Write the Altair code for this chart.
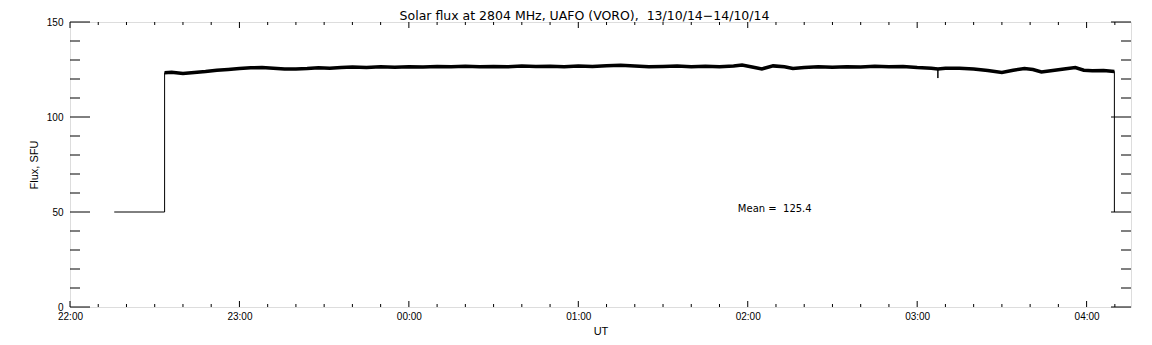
import json
import altair as alt
import pandas as pd

# ---------------- data ----------------
TITLE = "Solar flux at 2804 MHz, UAFO (VORO),\u00a0 13/10/14\u221214/10/14"
hour_labels = ["22:00", "23:00", "00:00", "01:00", "02:00", "03:00", "04:00"]
hour_ticks = [0, 1, 2, 3, 4, 5, 6]
minor_x_minutes = [10, 20, 30, 40, 50, 70, 80, 90, 100, 110, 130, 140, 150, 160, 170,
                   190, 200, 210, 220, 230, 250, 260, 270, 280, 290, 310, 320, 330,
                   340, 350, 370]
y_major = [0, 50, 100, 150]
y_minor = [10, 20, 30, 40, 60, 70, 80, 90, 110, 120, 130, 140]
x_max_hours = 6.262

# no-data fill level before / after the observation
start_times = ["22:15:40", "22:33:30"]
start_flux = [50, 50]
end_times = ["04:09:50"]
end_flux = [50]

# measured flux (SFU)
band_times = ["22:33:30", "22:36", "22:40", "22:44", "22:48", "22:52", "22:56", "23:00",
              "23:04", "23:08", "23:12", "23:16", "23:20", "23:24", "23:28", "23:32",
              "23:36", "23:40", "23:45", "23:50", "23:55", "00:00", "00:05", "00:10",
              "00:15", "00:20", "00:25", "00:30", "00:35", "00:40", "00:45", "00:50",
              "00:55", "01:00", "01:05", "01:10", "01:15", "01:20", "01:25", "01:30",
              "01:35", "01:40", "01:45", "01:50", "01:55", "01:58", "02:02", "02:05",
              "02:09", "02:13", "02:16", "02:20", "02:25", "02:30", "02:35", "02:40",
              "02:45", "02:50", "02:55", "03:00", "03:05", "03:07:20", "03:10", "03:15",
              "03:20", "03:25", "03:30", "03:34", "03:38", "03:41", "03:44", "03:48",
              "03:52", "03:56", "03:59", "04:02", "04:06", "04:09:50"]
band_flux = [123.3, 123.6, 122.9, 123.4, 123.9, 124.6, 125.0, 125.5,
             125.9, 126.0, 125.6, 125.2, 125.3, 125.5, 125.9, 125.6,
             126.1, 126.3, 126.0, 126.4, 126.2, 126.5, 126.3, 126.6,
             126.4, 126.7, 126.5, 126.6, 126.4, 126.8, 126.6, 126.7,
             126.5, 126.9, 126.6, 127.0, 127.2, 126.8, 126.5, 126.6,
             126.8, 126.5, 126.7, 126.4, 126.8, 127.4, 126.2, 125.3,
             126.9, 126.4, 125.5, 126.0, 126.4, 126.2, 126.5, 126.3,
             126.7, 126.4, 126.6, 126.0, 125.6, 125.3, 125.6, 125.7,
             125.3, 124.5, 123.4, 124.6, 125.5, 125.0, 123.7, 124.5,
             125.3, 126.0, 124.6, 124.3, 124.5, 124.0]
spike_time = "03:07:20"
spike_flux = [120.5, 125.3]

mean_text = "Mean =\u00a0 125.4"
mean_time = "01:56:30"
mean_flux = 50

FONT = "DejaVu Sans"
W, H = 1061, 285


def hrs(s):
    parts = [float(p) for p in s.split(":")]
    while len(parts) < 3:
        parts.append(0.0)
    h, m, sec = parts
    h = h - 22 if h >= 22 else h + 2
    return h + m / 60 + sec / 3600


rows = []
for t, v in zip(start_times, start_flux):
    rows.append((hrs(t), v, "fill"))
for t, v in zip(band_times, band_flux):
    rows.append((hrs(t), v, "band"))
    if t == spike_time:
        for sv in spike_flux:
            rows.append((hrs(spike_time), sv, "spike"))
for t, v in zip(end_times, end_flux):
    rows.append((hrs(t), v, "fill"))
df = pd.DataFrame(rows, columns=["t", "flux", "kind"])
df["i"] = range(len(df))

xscale = alt.Scale(domain=[0, x_max_hours], nice=False, zero=False)
yscale = alt.Scale(domain=[0, 150], nice=False)

label_expr = json.dumps(hour_labels) + "[round(datum.value)]"

XAXIS = alt.Axis(values=hour_ticks, labelExpr=label_expr, labelFlush=False,
                 labelOverlap=False, labelPadding=4, tickSize=0, ticks=False,
                 grid=False, domain=False, title="UT",
                 titleY=24, titleBaseline="middle", titleFontWeight="normal")
YAXIS = alt.Axis(values=y_major, labelFlush=False, labelOverlap=False,
                 labelPadding=7, tickSize=0, ticks=False, grid=False,
                 domain=False, title="Flux, SFU", titleX=-36,
                 titleY=H / 2, titleBaseline="middle", titleAlign="center",
                 titleFontWeight="normal")


def X(field):
    return alt.X(field, scale=xscale, axis=XAXIS, title="UT")


def Y(field):
    return alt.Y(field, scale=yscale, axis=YAXIS, title="Flux, SFU")


base = alt.Chart(df)

thin = base.mark_line(color="black", strokeWidth=1).encode(
    x=X("t:Q"), y=Y("flux:Q"), order="i:Q")
thick = base.transform_filter(alt.datum.kind == "band").mark_line(
    color="black", strokeWidth=3.5
).encode(x=X("t:Q"), y=Y("flux:Q"), order="i:Q")

# ticks drawn inside the frame (IDL style)
xmaj = pd.DataFrame({"t": hour_ticks})
xmin = pd.DataFrame({"t": [m / 60 for m in minor_x_minutes]})
ymaj = pd.DataFrame({"flux": y_major})
ymin = pd.DataFrame({"flux": y_minor})


def xticks(d, length):
    bot = alt.Chart(d).mark_rule(color="black", strokeWidth=1).encode(
        x=X("t:Q"), y=alt.value(H), y2=alt.value(H - length))
    top = alt.Chart(d).mark_rule(color="black", strokeWidth=1).encode(
        x=X("t:Q"), y=alt.value(0), y2=alt.value(length))
    return bot + top


def yticks(d, length):
    left = alt.Chart(d).mark_rule(color="black", strokeWidth=1).encode(
        y=Y("flux:Q"), x=alt.value(0), x2=alt.value(length))
    right = alt.Chart(d).mark_rule(color="black", strokeWidth=1).encode(
        y=Y("flux:Q"), x=alt.value(W - length), x2=alt.value(W))
    return left + right


mean_df = pd.DataFrame({"t": [hrs(mean_time)], "flux": [mean_flux], "label": [mean_text]})
mean_label = alt.Chart(mean_df).mark_text(
    align="left", baseline="alphabetic", font=FONT, fontSize=10, color="black"
).encode(x=X("t:Q"), y=Y("flux:Q"), text="label:N")

title_df = pd.DataFrame({"label": [TITLE]})
title_mark = alt.Chart(title_df).mark_text(
    align="center", baseline="alphabetic", font=FONT, fontSize=12.5, color="black"
).encode(x=alt.value(W / 2 - 16), y=alt.value(-1.9), text="label:N")

chart = alt.layer(
    thin, thick,
    xticks(xmaj, 6), xticks(xmin, 3),
    yticks(ymaj, 20), yticks(ymin, 10),
    mean_label, title_mark,
).properties(
    width=W, height=H,
    autosize=alt.AutoSizeParams(type="none"),
    padding={"left": 62, "top": 14, "right": 13, "bottom": 36},
).configure_view(
    stroke="black", strokeWidth=1
).configure_axis(
    grid=False, ticks=False, domain=False,
    labelFont=FONT, labelFontSize=11, labelColor="black",
    titleFont=FONT, titleFontSize=11, titleColor="black", titleFontWeight="normal",
).configure(background="white")

chart.save("out.html", embed_options={"renderer": "svg", "actions": False})
